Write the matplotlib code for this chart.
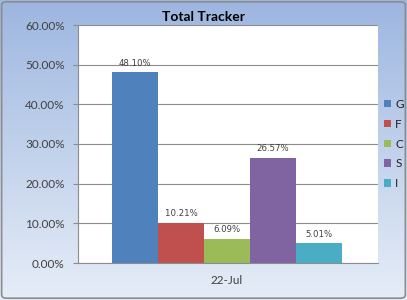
import matplotlib
matplotlib.use("Agg")
import matplotlib.pyplot as plt
import numpy as np
from matplotlib.colors import LinearSegmentedColormap
from matplotlib.patches import FancyBboxPatch
from matplotlib.ticker import FuncFormatter

plt.rcParams["font.family"] = ["Lato", "DejaVu Sans"]

series = ["G", "F", "C", "S", "I"]
values = [48.10, 10.21, 6.09, 26.57, 5.01]
colors = ["#4F81BD", "#C0504D", "#9BBB59", "#8064A2", "#4BACC6"]
category = "22-Jul"
yticks = [0, 10, 20, 30, 40, 50, 60]

fig = plt.figure(figsize=(4.07, 3.00), dpi=100)

# gradient background
bg = fig.add_axes([0, 0, 1, 1], zorder=-2)
grad = LinearSegmentedColormap.from_list("bg", ["#E6EDF7", "#9DB6E0"])
bg.imshow(np.linspace(0, 1, 256).reshape(-1, 1), aspect="auto", cmap=grad,
          origin="lower", extent=[0, 1, 0, 1])
bg.set_xlim(0, 1)
bg.set_ylim(0, 1)
bg.axis("off")
bg.add_patch(FancyBboxPatch((0.004, 0.006), 0.992, 0.988,
                            boxstyle="round,pad=0,rounding_size=0.012",
                            fill=False, edgecolor="#8C8C8C", lw=1.2,
                            transform=bg.transAxes))

ax = fig.add_axes([78 / 407, 1 - 263 / 300, 300 / 407, 238 / 300])
ax.set_facecolor("white")
x = np.arange(len(series)) - 2
bars = ax.bar(x, values, width=1.0, color=colors, label=series, zorder=2)
for xi, v in zip(x, values):
    ax.text(xi, v + 2.3, f"{v:.2f}%", ha="center", va="center",
            fontsize=6.8, color="#404040", family=["DejaVu Sans"],
            fontstretch="condensed")

ax.set_ylim(0, 60)
ax.set_xlim(-3.24, 3.28)
ax.set_yticks(yticks)
ax.yaxis.set_major_formatter(FuncFormatter(lambda v, _: f"{v:.2f}%"))
ax.yaxis.grid(True, color="#8C8C8C", lw=0.8, zorder=0)
ax.set_xticks([0])
ax.set_xticklabels([category])
ax.tick_params(axis="y", length=3.6, color="#8C8C8C", labelsize=8.5,
               labelcolor="#404040", pad=6)
ax.tick_params(axis="x", length=0, labelsize=8.5, labelcolor="#404040", pad=9)
for side in ("top", "right"):
    ax.spines[side].set_visible(False)
for side in ("left", "bottom"):
    ax.spines[side].set_color("#8C8C8C")
    ax.spines[side].set_linewidth(0.8)

fig.text(203 / 407, 1 - 17 / 300, "Total Tracker", ha="center", va="center",
         fontsize=10, fontweight="bold", color="black")

fig.legend(handles=bars, labels=series, loc="center left",
           bbox_to_anchor=(384 / 407, 1 - 144 / 300), frameon=False,
           borderpad=0, borderaxespad=0,
           fontsize=8.5, handlelength=0.6, handleheight=0.6,
           handletextpad=0.35, labelspacing=0.75, labelcolor="#202020")

fig.savefig("out.png", dpi=100)
